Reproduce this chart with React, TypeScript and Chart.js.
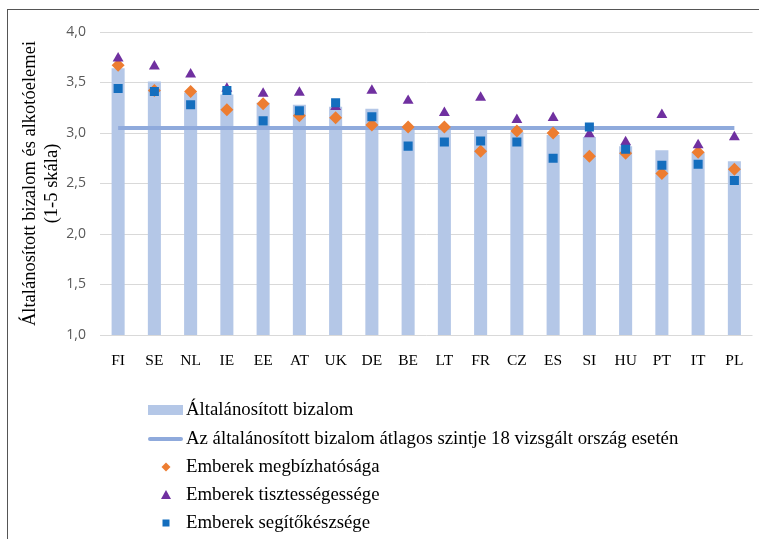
import React, { useEffect, useRef } from "react";
import { Chart, registerables } from "chart.js";

Chart.register(...registerables);

const countries = ["FI", "SE", "NL", "IE", "EE", "AT", "UK", "DE", "BE", "LT", "FR", "CZ", "ES", "SI", "HU", "PT", "IT", "PL"];
const generalTrust = [3.64, 3.51, 3.4, 3.38, 3.3, 3.28, 3.26, 3.24, 3.04, 3.04, 3.03, 3.01, 2.98, 2.96, 2.87, 2.83, 2.81, 2.72];
const averageTrust = 3.05;
const reliability = [3.67, 3.42, 3.41, 3.23, 3.29, 3.17, 3.15, 3.08, 3.06, 3.06, 2.82, 3.02, 3.0, 2.77, 2.8, 2.6, 2.81, 2.64];
const fairness = [3.74, 3.66, 3.58, 3.44, 3.39, 3.4, 3.26, 3.42, 3.32, 3.2, 3.35, 3.13, 3.15, 2.99, 2.91, 3.18, 2.88, 2.96];
const helpfulness = [3.44, 3.41, 3.28, 3.42, 3.12, 3.22, 3.3, 3.16, 2.87, 2.91, 2.92, 2.91, 2.75, 3.06, 2.84, 2.68, 2.69, 2.53];
const yMin = 1;
const yMax = 4;
const yStep = 0.5;
const yTitle = ["Általánosított bizalom és alkotóelemei", "(1-5 skála)"];
const legendLabels = [
  "Általánosított bizalom",
  "Az általánosított bizalom átlagos szintje 18 vizsgált ország esetén",
  "Emberek megbízhatósága",
  "Emberek tisztességessége",
  "Emberek segítőkészsége",
];

const BAR = "rgb(180,199,231)";
const LINE = "rgb(143,170,220)";
const ORANGE = "rgb(237,125,49)";
const PURPLE = "rgb(112,48,160)";
const BLUE = "rgb(20,110,190)";

function LegendMarker({ kind }: { kind: number }) {
  if (kind === 0) return <div style={{ width: 35, height: 10, background: BAR }} />;
  if (kind === 1) return <div style={{ width: 35, height: 4, background: LINE, borderRadius: 2 }} />;
  return (
    <svg width={35} height={14} viewBox="0 0 35 14">
      {kind === 2 && <polygon points="18,2.5 22.5,7 18,11.5 13.5,7" fill={ORANGE} />}
      {kind === 3 && <polygon points="18,2 23,11 13,11" fill={PURPLE} />}
      {kind === 4 && <rect x={14.5} y={3.5} width={7} height={7} fill={BLUE} />}
    </svg>
  );
}

export default function App() {
  const ref = useRef<HTMLCanvasElement | null>(null);

  useEffect(() => {
    if (!ref.current) return;
    const chart = new Chart(ref.current, {
      type: "bar",
      data: {
        labels: countries,
        datasets: [
          {
            type: "bar",
            label: legendLabels[0],
            data: generalTrust,
            backgroundColor: BAR,
            barPercentage: 0.36,
            categoryPercentage: 1,
            order: 5,
          } as any,
          {
            type: "line",
            label: legendLabels[1],
            data: countries.map(() => averageTrust),
            borderColor: LINE,
            borderWidth: 4,
            pointRadius: 0,
            order: 4,
          },
          {
            type: "line",
            label: legendLabels[2],
            data: reliability,
            showLine: false,
            pointStyle: "rectRot",
            pointRadius: 6.5,
            pointBackgroundColor: ORANGE,
            pointBorderWidth: 0,
            order: 3,
          },
          {
            type: "line",
            label: legendLabels[3],
            data: fairness,
            showLine: false,
            pointStyle: "triangle",
            pointRadius: 6.3,
            pointBackgroundColor: PURPLE,
            pointBorderWidth: 0,
            order: 2,
          },
          {
            type: "line",
            label: legendLabels[4],
            data: helpfulness,
            showLine: false,
            pointStyle: "rect",
            pointRadius: 6.4,
            pointBackgroundColor: BLUE,
            pointBorderWidth: 0,
            order: 1,
          },
        ],
      },
      options: {
        responsive: false,
        animation: false,
        layout: { padding: { top: 32, right: 3, left: 0, bottom: 0 } },
        plugins: { legend: { display: false }, tooltip: { enabled: false } },
        scales: {
          x: {
            grid: { display: false },
            border: { display: false },
            ticks: {
              font: { family: "Liberation Serif", size: 15.5 },
              color: "#000",
              padding: 9,
              maxRotation: 0,
              autoSkip: false,
            },
            afterFit: (s: any) => {
              s.height = 45;
            },
          },
          y: {
            min: yMin,
            max: yMax,
            ticks: {
              stepSize: yStep,
              callback: (v: any) => Number(v).toFixed(1).replace(".", ","),
              font: { family: "Open Sans", size: 14 },
              color: "#595959",
              padding: 14,
            },
            grid: { color: "#d9d9d9", drawTicks: false, lineWidth: 1 },
            border: { display: false },
            title: {
              display: true,
              text: yTitle,
              font: { family: "Liberation Serif", size: 18.5 },
              color: "#000",
              padding: { top: 19, bottom: 0 },
            },
            afterFit: (s: any) => {
              s.width = 100;
            },
          },
        },
      },
    });
    return () => chart.destroy();
  }, []);

  const rowCenters = [410, 438.5, 467, 495, 522.7];

  return (
    <div style={{ position: "absolute", left: 0, top: 0, width: 759, height: 539, overflow: "hidden", background: "#fff" }}>
      <canvas ref={ref} width={759} height={380} style={{ position: "absolute", left: 0, top: 0, width: 759, height: 380 }} />
      <div
        style={{
          position: "absolute",
          left: 7,
          top: 9,
          width: 760,
          height: 540,
          borderLeft: "1.5px solid #555",
          borderTop: "1.5px solid #555",
          pointerEvents: "none",
        }}
      />
      {legendLabels.map((t, i) => (
        <div key={i}>
          <div
            style={{
              position: "absolute",
              left: 148,
              top: rowCenters[i] - 7,
              width: 35,
              height: 14,
              display: "flex",
              alignItems: "center",
            }}
          >
            <LegendMarker kind={i} />
          </div>
          <div
            style={{
              position: "absolute",
              left: 186,
              top: rowCenters[i] - 12,
              fontFamily: "Liberation Serif",
              fontSize: 18.8,
              lineHeight: "22px",
              color: "#000",
              whiteSpace: "nowrap",
            }}
          >
            {t}
          </div>
        </div>
      ))}
    </div>
  );
}
